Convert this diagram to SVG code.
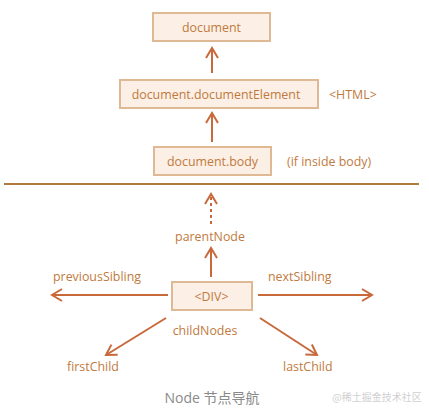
<svg xmlns="http://www.w3.org/2000/svg" width="429" height="414" viewBox="0 0 429 414">
<style>
.box{fill:#fcefe5;stroke:#dfb894;stroke-width:2}
.t{font-family:"Open Sans","Liberation Sans",sans-serif;font-size:12.4px;fill:#bf7a3e}
.c{text-anchor:middle}
.ln{stroke:#c8693c;stroke-width:2;fill:none}
.dash{stroke-dasharray:3 3}
</style>
<defs>
<marker id="ah" viewBox="0 0 14 14" refX="12" refY="7" markerWidth="14" markerHeight="14" markerUnits="userSpaceOnUse" orient="auto">
<path d="M2,1 L12,7 L2,13" fill="none" stroke="#c8693c" stroke-width="2"/>
</marker>
</defs>
<rect width="429" height="414" fill="#fff"/>
<g id="node-document"><rect class="box" x="153" y="13" width="117" height="28"/><text class="t c" x="211.5" y="31.5">document</text></g>
<g id="node-documentElement"><rect class="box" x="120" y="80" width="198" height="28"/><text class="t c" x="216" y="98.5">document.documentElement</text></g>
<text class="t" x="329" y="98.5">&lt;HTML&gt;</text>
<g id="node-body"><rect class="box" x="154" y="147" width="117" height="28"/><text class="t c" x="212.5" y="165.5">document.body</text></g>
<text class="t" x="287" y="165.5">(if inside body)</text>
<line x1="4" y1="184" x2="419" y2="184" stroke="#b07a3a" stroke-width="2"/>
<g id="node-div"><rect class="box" x="172" y="282" width="80" height="28"/><text class="t c" x="211.5" y="300.5">&lt;DIV&gt;</text></g>
<g id="connectors">
<line class="ln" x1="212" y1="73" x2="212" y2="48" marker-end="url(#ah)"/>
<line class="ln" x1="212" y1="142" x2="212" y2="113" marker-end="url(#ah)"/>
<line class="ln dash" x1="211" y1="224" x2="211" y2="194" marker-end="url(#ah)"/>
<line class="ln" x1="211" y1="277" x2="211" y2="248" marker-end="url(#ah)"/>
<line class="ln" x1="168" y1="295" x2="52" y2="295" marker-end="url(#ah)"/>
<line class="ln" x1="258" y1="295" x2="372" y2="295" marker-end="url(#ah)"/>
<line class="ln" x1="166" y1="318" x2="106" y2="355" marker-end="url(#ah)"/>
<line class="ln" x1="260" y1="318" x2="317" y2="355" marker-end="url(#ah)"/>
</g>
<text class="t c" x="210" y="241">parentNode</text>
<text class="t" x="53" y="281">previousSibling</text>
<text class="t" x="268" y="281">nextSibling</text>
<text class="t c" x="205" y="335">childNodes</text>
<text class="t" x="67" y="371">firstChild</text>
<text class="t" x="283" y="371">lastChild</text>
<text x="212" y="403" text-anchor="middle" font-family="'Open Sans','Noto Sans CJK SC',sans-serif" font-size="14" fill="#8a8a8a">Node 节点导航</text>
<text x="377" y="401" text-anchor="middle" font-family="'Noto Sans CJK SC',sans-serif" font-size="10" fill="#d0d0d0">@稀土掘金技术社区</text>
</svg>
